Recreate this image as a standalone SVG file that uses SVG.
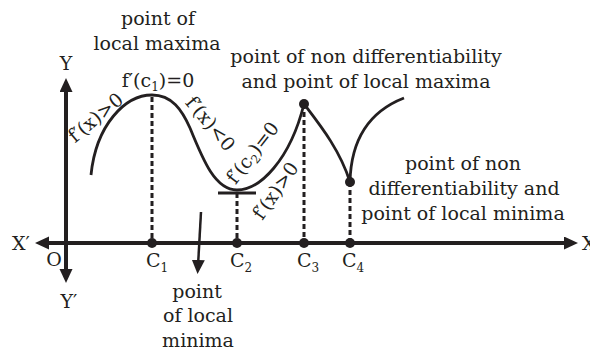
<svg xmlns="http://www.w3.org/2000/svg" width="590" height="352" viewBox="0 0 590 352">
<style>
text{font-family:"DejaVu Serif","Liberation Serif",serif;font-size:19px;fill:#231f20}
.m{text-anchor:middle}
.axis{stroke:#231f20;stroke-width:4;fill:none}
.curve{stroke:#231f20;stroke-width:2.8;fill:none}
.dash{stroke:#231f20;stroke-width:3;stroke-dasharray:5 3;fill:none}
.dot{fill:#231f20}
.sub{font-size:12px}
</style>
<defs>
<marker id="ah" markerUnits="userSpaceOnUse" markerWidth="15" markerHeight="14" refX="6" refY="6.5" orient="auto-start-reverse">
<path d="M0,0 L14,6.5 L0,13 z" fill="#231f20"/>
</marker>
</defs>
<rect width="590" height="352" fill="#fff"/>
<g id="connectors">
<line class="axis" x1="43" y1="243" x2="570" y2="243" marker-start="url(#ah)" marker-end="url(#ah)"/>
<line class="axis" x1="66" y1="86" x2="66" y2="275" marker-start="url(#ah)" marker-end="url(#ah)"/>
<line class="dash" x1="152" y1="97" x2="152" y2="243"/>
<line class="dash" x1="237" y1="193" x2="237" y2="243"/>
<line class="dash" x1="304" y1="104" x2="304" y2="243"/>
<line class="dash" x1="350" y1="182" x2="350" y2="243"/>
<line x1="201" y1="212" x2="198" y2="266" stroke="#231f20" stroke-width="2.5" marker-end="url(#ah)"/>
</g>
<g id="curve">
<path class="curve" d="M91,175 C96,125 125,95 152,95 C172,95 182,110 190,128 C203,160 215,190 237,190 C260,190 290,160 304,104 C320,125 340,150 350,182 C351,140 368,112 404,98"/>
<line x1="218" y1="193" x2="256" y2="193" stroke="#231f20" stroke-width="3"/>
<circle class="dot" cx="304" cy="104" r="5"/>
<circle class="dot" cx="350" cy="182" r="5"/>
</g>
<g id="points">
<circle class="dot" cx="152" cy="243" r="5"/>
<circle class="dot" cx="237" cy="243" r="5"/>
<circle class="dot" cx="304" cy="243" r="5"/>
<circle class="dot" cx="350" cy="243" r="5"/>
</g>
<g id="axis-labels">
<text x="21" y="250" class="m">X′</text>
<text x="582" y="250">X</text>
<text x="66" y="70" class="m">Y</text>
<text x="69" y="308" class="m">Y′</text>
<text x="54" y="266" class="m">O</text>
<text x="146" y="267">C<tspan class="sub" dy="5">1</tspan></text>
<text x="230" y="267">C<tspan class="sub" dy="5">2</tspan></text>
<text x="297" y="267">C<tspan class="sub" dy="5">3</tspan></text>
<text x="342" y="267">C<tspan class="sub" dy="5">4</tspan></text>
</g>
<g id="label-local-maxima">
<text x="158" y="25" class="m">point of</text>
<text x="157" y="50" class="m">local maxima</text>
<text x="158" y="87" class="m">f′(c<tspan class="sub" dy="4">1</tspan><tspan dy="-4">)=0</tspan></text>
</g>
<g id="label-nondiff-max">
<text x="366" y="63" class="m">point of non differentiability</text>
<text x="366" y="88" class="m">and point of local maxima</text>
</g>
<g id="label-nondiff-min">
<text x="463" y="170" class="m">point of non</text>
<text x="464" y="195" class="m">differentiability and</text>
<text x="463" y="220" class="m">point of local minima</text>
</g>
<g id="label-local-minima">
<text x="197" y="298" class="m">point</text>
<text x="198" y="322" class="m">of local</text>
<text x="198" y="347" class="m">minima</text>
</g>
<g id="slope-labels">
<text transform="translate(96,118) rotate(-40)" x="0" y="6" class="m">f′(x)&gt;0</text>
<text transform="translate(210,124) rotate(50)" x="0" y="6" class="m">f′(x)&lt;0</text>
<text transform="translate(253,153) rotate(-52)" x="0" y="6" class="m">f′(c<tspan class="sub" dy="4">2</tspan><tspan dy="-4">)=0</tspan></text>
<text transform="translate(276,191) rotate(-55)" x="0" y="6" class="m">f′(x)&gt;0</text>
</g>
</svg>
